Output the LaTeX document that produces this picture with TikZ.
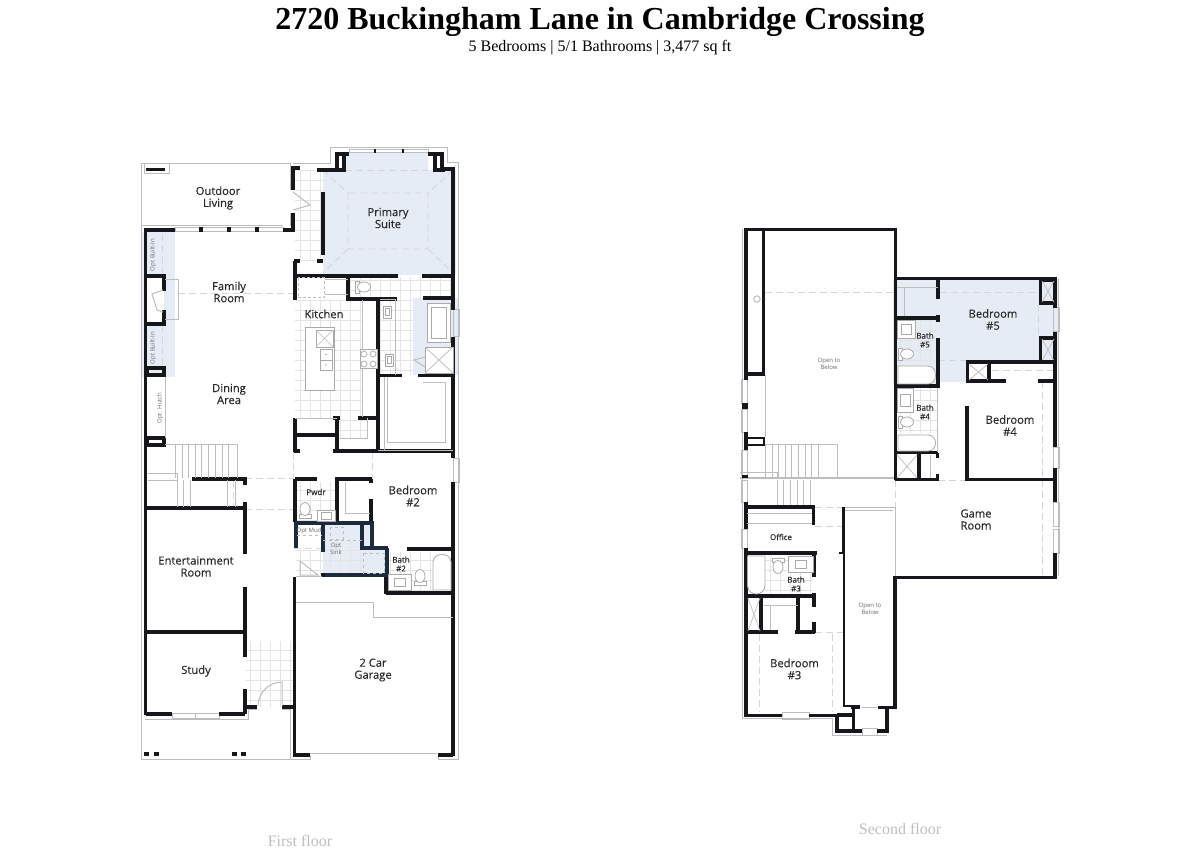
\documentclass[tikz,border=0pt]{standalone}
\usepackage{fontspec}
\setmainfont{Liberation Serif}
\newfontfamily\planfont[FakeBold=0.35]{Open Sans}
\newfontfamily\tinyplanfont{Open Sans}
\definecolor{wallc}{HTML}{15171A}
\definecolor{navyc}{HTML}{1C2A3E}
\definecolor{greyc}{HTML}{BDBDBD}
\definecolor{tilec}{HTML}{E4E4E4}
\definecolor{ceilc}{HTML}{D6D6D6}
\definecolor{optc}{HTML}{E6ECF5}
\definecolor{labc}{HTML}{2B2B2B}
\tikzset{
  wall/.style={line width=3.2pt,wallc,line cap=butt,line join=miter},
  navywall/.style={line width=3.2pt,navyc},
  grl/.style={line width=1pt,greyc},
  fix/.style={line width=.8pt,color=greyc!90!black,fill=white},
  tileg/.style={line width=.6pt,tilec},
  ceil/.style={line width=.9pt,ceilc,dash pattern=on 7pt off 4pt},
  optfill/.style={fill=optc,draw=none},
  lab/.style={font=\planfont\fontsize{11.2}{12}\selectfont,text=labc,align=center,inner sep=0pt},
  slab/.style={font=\planfont\fontsize{8}{8.8}\selectfont,text=labc,align=center,inner sep=0pt},
  tlab/.style={font=\tinyplanfont\fontsize{6}{6.5}\selectfont,text=labc!70,align=center,inner sep=0pt},
  toiletp/.pic={
    \draw[fix] (-6,4) rectangle (6,8);
    \draw[fix] (0,-1) ellipse [x radius=5,y radius=6.5];
  },
  sinkp/.pic={
    \draw[fix] (-6,-4) rectangle (6,4);
    \draw[fix] (-3.5,-2) rectangle (3.5,2);
  },
  xbox/.style={line width=.7pt,greyc},
}
\begin{document}
\begin{tikzpicture}[x=1pt,y=-1pt]
\useasboundingbox (0,0) rectangle (1200,850);
\fill[white] (0,0) rectangle (1200,850);
% headings
\node[font=\bfseries\fontsize{32}{36}\selectfont,inner sep=0pt] (title) at (600,22) {2720 Buckingham Lane in Cambridge Crossing};
\node[font=\fontsize{16}{18}\selectfont,inner sep=0pt] (subtitle) at (600,48) {5 Bedrooms | 5/1 Bathrooms | 3,477 sq ft};
\node[font=\fontsize{16}{18}\selectfont,text=black!25,inner sep=0pt] (first) at (300,841) {First floor};
\node[font=\fontsize{16}{18}\selectfont,text=black!25,inner sep=0pt] (second) at (900,829) {Second floor};

%%%%%%%% FIRST FLOOR
% option fills
\fill[optfill] (323,170) -- (345,170) -- (345,153) -- (428,153) -- (428,170) -- (456,170) -- (456,275) -- (323,275) -- cycle;
\fill[optfill] (142,232) rectangle (175,377);
\fill[white] (147,276) rectangle (164,324);
\fill[optfill] (413,298) rectangle (459,375);
\fill[optfill] (323,525) -- (372,525) -- (372,548) -- (387,548) -- (387,575) -- (323,575) -- cycle;
% tiles
\draw[tileg,step=10pt] (295,170) grid (323,260);
\draw[tileg,step=10pt] (295,300) grid (362,418);
\draw[tileg,step=10pt] (337,418) grid (367,438);
\draw[tileg,step=10pt] (348,277) grid (453,298);
\draw[tileg,step=10pt] (380,298) grid (413,375);
\draw[tileg,step=10pt] (246,641) grid (293,707);
\draw[tileg,step=10pt] (296,482) grid (336,520);
\draw[tileg,step=10pt] (296,550) grid (323,575);
\draw[tileg,step=10pt] (324,541) grid (362,575);
\draw[tileg,step=10pt] (388,552) grid (433,590);
% grey outlines
\draw[grl] (141.5,226) -- (141.5,164) -- (290,164) -- (290,190);
\draw[grl] (290,213) -- (290,226);
\draw[grl] (141.5,226) -- (283,226);
\draw[grl] (144,164) rectangle (169,174);
\draw[grl] (141.5,226) -- (141.5,759) -- (290,759) -- (290,709) -- (282,709);
\draw[grl] (145,719) -- (248,719) -- (248,709) -- (257,709);
\draw[grl] (310,164) -- (330,164) -- (330,148) -- (447,148) -- (447,163) -- (458,163) -- (458,759) -- (438,759) -- (438,755);
\draw[grl] (290,759) -- (310,759) -- (310,755);
\draw[grl] (293,164) -- (310,164);
\draw[grl] (175,228) rectangle (283,232);
\draw[grl] (349,150) rectangle (428,153);
\draw[grl] (310,753) -- (437,753);
\draw[grl] (172,713) rectangle (219,718);
\draw[grl] (195.5,713) -- (195.5,718);
\draw[grl] (453,458) rectangle (459,482);
\draw[grl] (453,310) rectangle (459,337);
% ceilings
\draw[ceil] (345,170) -- (428,170);
\draw[ceil] (323,170) -- (348,193) rectangle (428,249) -- (453,273);
\draw[ceil] (453,170) -- (428,193);
\draw[ceil] (348,249) -- (323,273);
\draw[ceil] (178,293) -- (293,293);
\draw[ceil] (293,452) -- (293,479);
\draw[ceil] (372,452) -- (372,478);
\draw[ceil] (245,478) -- (293,478);
\draw[ceil] (245,509) -- (293,509);
\draw[ceil] (233,481) -- (233,507);
\draw[ceil] (294,548) -- (323,548);
\draw[ceil] (162,234) -- (162,275);
\draw[ceil] (162,325) -- (162,367);
% walls
\draw[wall] (145.5,230) -- (145.5,715);
\draw[wall] (144,230) -- (175,230);
\draw[wall] (283,230) -- (293,230) -- (293,213);
\draw[wall] (293,190) -- (293,168) -- (300,168);
\foreach \m in {201,229,257} \fill[wallc] (\m-2,227) rectangle (\m+2,232);
\draw[wall] (147,276) -- (164,276) -- (164,291);
\draw[wall] (164,310) -- (164,324) -- (147,324);
\draw[wall] (147,368) rectangle (164,375);
\draw[wall] (147,438) rectangle (164,445);
\draw[wall] (147,508) -- (245,508);
\draw[wall] (192,479) -- (246.5,479);
\draw[wall] (245,479) -- (245,485);
\draw[wall] (245,502) -- (245,554);
\draw[wall] (245,587) -- (245,657);
\draw[wall] (245,689) -- (245,714);
\draw[wall] (146,632) -- (245,632);
\draw[wall] (146,714) -- (172,714);
\draw[wall] (219,714) -- (245,714);
\draw[wall] (245,707) -- (257,707);
\draw[wall] (282,707) -- (293,707);
\draw[wall] (294.5,577) -- (294.5,755) -- (310,755);
\draw[wall] (438,755) -- (453,755);
\draw[wall] (453,593) -- (453,756);
% primary suite
\draw[wall] (317,170) -- (344,170) -- (344,154);
\draw[wall] (337,170) -- (337,154) -- (349,154);
\draw[wall] (428,154) -- (442,154) -- (442,169) -- (453,169) -- (453,310);
\draw[wall] (435,154) -- (435,170) -- (445,170);
\draw[wall] (323,192) -- (323,255);
\draw[wall] (323,170) -- (323,172);
\draw[line width=2pt,wallc] (375,149.5) -- (375,153);
\draw[line width=2pt,wallc] (403,149.5) -- (403,153);
% kitchen / bath
\draw[wall] (295,276) -- (295,300);
\draw[wall] (295,261) -- (295,276);
\draw[wall] (293.5,261) -- (300,261);
\draw[wall] (317,261) -- (323,261);
\draw[wall] (295,276) -- (398,276);
\draw[wall] (422,276) -- (453,276);
\draw[wall] (348,275) -- (348,299) -- (397,299);
\draw[wall] (423,298) -- (453,298) -- (453,275);
\draw[wall] (453,337) -- (453,375);
\draw[wall] (378,299) -- (378,453);
\draw[wall] (378,375.5) -- (402,375.5);
\draw[wall] (418,375.5) -- (453,375.5);
\draw[wall] (358,418) -- (378,418);
\draw[wall] (295,418) -- (295,452);
\draw[wall] (295,435) -- (337,435);
\draw[wall] (337,418) -- (337,453);
\draw[wall] (333,418) -- (340,418);
\draw[wall] (293.5,451) -- (300,451);
\draw[wall] (333,451) -- (453,451);
\draw[wall] (453,375) -- (453,458);
% pwdr, mud, bed2
\draw[wall] (295,479) -- (317,479);
\draw[wall] (335,479) -- (372,479);
\draw[wall] (295,479) -- (295,522);
\draw[wall] (337,477) -- (337,522);
\draw[wall] (371,479) -- (371,483);
\draw[wall] (371,499) -- (371,522);
\draw[wall] (453,482) -- (453,549);
\draw[wall] (407,549) -- (453,549);
\draw[wall] (386,593) -- (453,593);
\draw[wall] (386,576) -- (386,594);
\draw[wall] (453,549) -- (453,594);
\draw[navywall] (295,523) -- (372,523) -- (372,548) -- (388,548);
\draw[navywall] (362,523) -- (362,548) -- (372,548);
\draw[navywall] (323,523) -- (323,552);
\draw[navywall] (323,575) -- (387,575) -- (387,548);
\draw[navywall] (296,522) -- (296,548);
\draw[wall] (323,572.5) -- (323,577);
% dashed options
\draw[grl,dashed] (297,535) -- (322,535);
\draw[grl,dashed] (323,540) -- (362,540);
\draw[grl,dashed] (330,527) rectangle (343,539);
\draw[grl,dashed] (363,553) rectangle (384,573);
% doors
\draw[grl] (293,192) -- (310,205) -- (293,210);
\draw[grl] (300,575) -- (300,561) -- (318,575) -- cycle;
\draw[grl] (282,706) -- (282,682) .. controls (268,682) and (258,694) .. (258,706);
% stairs
\draw[grl] (165,444) -- (237,444);
\draw[grl] (165,377) -- (165,438);
\foreach \s in {175,182,188,195,201,208,215,222,228,237} \draw[grl] (\s,444) -- (\s,478);
\foreach \s in {177,183,190,227,235} \draw[grl] (\s,480) -- (\s,507);
\draw[grl] (148,473) -- (177,473) -- (177,480) -- (148,480);
% garage
\draw[grl] (296,602) -- (373,602) -- (373,617) -- (453,617);
\draw[grl] (296,576) -- (322,576);
% porch columns
\foreach \c in {144,153.5,232,241} \fill[wallc] (\c,752) rectangle (\c+5,756);
\fill[wallc] (146,168) rectangle (165,171);
% hearth and fireplace
\draw[grl] (165,280) -- (178,280) -- (178,320) -- (165,320);
\draw[grl] (163,290) -- (152,294) -- (157,310) -- (163,312);
% kitchen fixtures
\draw[fix] (305,327) rectangle (334,390);
\draw[fix] (316,330) rectangle (333,347);
\draw[xbox] (316,330) -- (333,347) (333,330) -- (316,347);
\draw[fix] (320,349) rectangle (332,370);
\draw[fix] (320,360) -- (332,360);
\fill[black!60] (326,354.5) circle (.7) (326,365) circle (.7);
\draw[grl,densely dashed] (298,278) rectangle (324,298);
\draw[grl] (325,280) -- (348,280) (325,295) -- (348,295);
\draw[grl] (362,300) -- (362,417);
\draw[fix] (360,349) rectangle (377,368);
\foreach \a/\b in {364/354,373/354,364/364,373/364} \draw[grl] (\a,\b) circle (3);
% pantry/closet lines
\draw[grl] (295,418) -- (337,418);
\draw[grl] (387,377) -- (387,442) -- (445,442) -- (445,383) -- (423,383);
\draw[grl] (384,377) -- (384,450);
\draw[grl] (378,450) -- (453,450);
\draw[grl] (367,418) -- (367,438) -- (340,438);
% primary bath fixtures
\pic[rotate=-90] at (363,287) {toiletp};
\pic[rotate=90] at (387,312) {sinkp};
\pic[rotate=90] at (389,360) {sinkp};
\draw[grl] (380,300) -- (395,300) -- (395,375);
\draw[fix] (427,303) rectangle (450,342);
\draw[fix] (431,307) rectangle (446,338);
\draw[fix] (425,347) rectangle (453,373);
\draw[xbox] (425,347) -- (453,373) (453,347) -- (425,373);
\draw[grl] (425,357) -- (414,360) -- (425,367);
% pwdr & bath 2 fixtures
\pic at (305,510) {toiletp};
\draw[fix] (317,510) rectangle (335,521);
\draw[fix] (321,512) rectangle (331,519);
\pic at (420,577) {toiletp};
\draw[fix] (388,574) rectangle (411,590);
\draw[fix] (394,578) rectangle (405,586);
\draw[fix] (433,590) -- (433,562) .. controls (433,552) and (451,552) .. (451,562) -- (451,590) -- cycle;
\draw[grl] (345,482) -- (345,513) -- (370,513);
% first floor labels
\node[lab] (outdoor) at (218,198) {Outdoor\\Living};
\node[lab] (primary) at (388,218) {Primary\\Suite};
\node[lab] (family) at (229,292) {Family\\Room};
\node[lab] (dining) at (229,394) {Dining\\Area};
\node[lab] (kitchen) at (324,314) {Kitchen};
\node[lab] (bed2) at (413,496) {Bedroom\\\#2};
\node[slab] (pwdr) at (316,492) {Pwdr};
\node[tlab] (optmud) at (309,531) {Opt Mud};
\node[tlab] (optsink) at (336,549) {Opt\\Sink};
\node[slab] (bath2) at (401,564) {Bath\\\#2};
\node[lab] (ent) at (196,566.5) {Entertainment\\Room};
\node[lab] (study) at (196,671) {Study};
\node[lab] (garage) at (373,670) {2 Car\\Garage};
\node[tlab,rotate=90] (bi1) at (153,255) {Opt Built-In};
\node[tlab,rotate=90] (bi2) at (153,348) {Opt Built-In};
\node[tlab,rotate=90] (hutch) at (160,408) {Opt. Hutch};

%%%%%%%% SECOND FLOOR
\fill[optfill] (893,279) -- (1058,279) -- (1058,363) -- (967,363) -- (967,382) -- (938,382) -- (938,386) -- (893,386) -- cycle;
\draw[tileg,step=10pt] (897,320) grid (937,364);
\draw[tileg,step=10pt] (897,388) grid (937,433);
\draw[tileg,step=10pt] (765,556) grid (813,595);
% grey
\draw[grl] (742,229) -- (742,718) -- (832,718) -- (832,735) -- (887,735);
\draw[grl] (1058,279) -- (1058,576);
\draw[grl] (765,375) -- (765,437);
\draw[grl] (741,380) rectangle (747,403);
\draw[grl] (741,409) rectangle (747,432);
\draw[grl] (741,450) rectangle (747,475);
\draw[grl] (741,480) rectangle (747,502);
\draw[grl] (741,529) rectangle (747,548);
\draw[grl] (1053,308) rectangle (1059,332);
\draw[grl] (1053,447) rectangle (1059,468);
\draw[grl] (1053,502) rectangle (1059,526);
\draw[grl] (1053,529) rectangle (1059,553);
\draw[grl] (782,712) rectangle (809,719);
\draw[grl] (862,728) rectangle (877,735);
\draw[grl] (757,299) circle (3.2);
% stairs
\draw[grl] (765,444) -- (837,444);
\foreach \s in {765,772,778,785,791,798,805,811,818,837} \draw[grl] (\s,444) -- (\s,477);
\foreach \s in {777,783,790,797,803,810} \draw[grl] (\s,480) -- (\s,507);
\draw[grl] (740,472) -- (777,472) -- (777,478);
\draw[grl,line width=1.5pt] (740,478) -- (895,478);
% ceilings
\draw[ceil] (765,292) -- (893,292);
\draw[ceil] (940,292) -- (1038,292);
\draw[ceil] (938,360) -- (967,360);
\draw[ceil] (1038,305) -- (1038,335);
\draw[ceil] (1042,381) -- (1042,576);
\draw[ceil] (895,480) -- (895,507);
\draw[ceil] (938,480) -- (967,480);
\draw[ceil] (815,507) -- (842,507);
\draw[ceil] (815,526) -- (842,526);
\draw[ceil] (815,632) -- (843,632);
\draw[ceil] (759,634) -- (759,712);
\draw[ceil] (832,634) -- (832,712);
\draw[ceil] (992,370) -- (1054,370);
% walls
\draw[wall] (746,380) -- (746,229.5) -- (895.5,229.5) -- (895.5,480);
\draw[wall] (763.5,230) -- (763.5,375);
\draw[wall] (746,374) -- (765,374);
\draw[wall] (746,432) -- (746,450);
\draw[wall,line width=2.5pt] (747,438) rectangle (764,445);
\fill[wallc] (742,403) rectangle (748,409);
\fill[wallc] (742,475) rectangle (748,478);
\draw[wall] (746,502) -- (746,529);
\draw[wall] (746,507) -- (815,507);
\draw[wall] (813.5,507) -- (813.5,525);
\draw[grl] (747,513) -- (812,513) (747,523) -- (812,523);
\draw[wall] (746,548) -- (746,715.5) -- (782,715.5);
\draw[wall] (809,715.5) -- (836,715.5);
\draw[wall] (746,553) -- (817,553);
\draw[wall] (814,553) -- (814,577);
\draw[wall] (746,596) -- (815,596);
\draw[wall] (814,593) -- (814,607);
\draw[wall] (814,622) -- (814,633);
\draw[wall] (761,597) -- (761,632);
\draw[wall] (798,597) -- (798,632);
\draw[wall] (746,632) -- (778,632);
\draw[wall] (795,632) -- (815,632);
\draw[grl] (764,605) -- (798,605) (770,605) -- (770,630);
\draw[xbox] (748,598) -- (760,631) (760,598) -- (748,631);
% open-to-below 2
\draw[wall] (843.5,507) -- (843.5,553);
\draw[wall,line width=2pt] (844,553) -- (844,706) -- (860,706);
\draw[wall,line width=2pt] (839,553) -- (844,553);
\draw[grl] (845,507) -- (895,507) -- (895,576);
\draw[grl] (845,510) -- (893,510);
\draw[wall] (895,576) -- (895,707.5) -- (878,707.5);
\draw[wall] (860,707.5) -- (851,707.5);
\draw[wall] (837,715) -- (853,715);
\draw[wall] (837,714) -- (837,731) -- (862,731);
\draw[wall] (877,731) -- (887,731) -- (887,707);
\draw[wall] (853.5,707) -- (853.5,731);
\draw[grl] (862,707) -- (877,707);
% upper right
\draw[wall] (895,278.5) -- (1056,278.5);
\draw[wall] (1055,277) -- (1055,308);
\draw[wall] (1055,332) -- (1055,447);
\draw[wall] (1055,468) -- (1055,502);
\draw[wall] (1055,553) -- (1055,577.5) -- (894,577.5);
\draw[wall] (938,280) -- (938,299);
\draw[wall] (938,315) -- (938,322);
\draw[wall] (896,318) -- (938,318);
\draw[wall] (938,338) -- (938,386);
\draw[wall] (895,386) -- (940,386);
\draw[wall] (1040.5,280) rectangle (1055,303);
\draw[wall] (1040.5,338) rectangle (1055,362);
\draw[xbox] (1042,281) -- (1054,302) (1054,281) -- (1042,302);
\draw[xbox] (1042,339) -- (1054,361) (1054,339) -- (1042,361);
\draw[wall] (967,362) -- (1055,362);
\draw[wall] (967.5,362) rectangle (989,381);
\draw[xbox] (969,364) -- (988,380) (988,364) -- (969,380);
\draw[wall] (989,381) -- (1006,381);
\draw[wall] (1038,381) -- (1055,381);
\draw[wall] (967,406) -- (967,481);
\draw[wall] (967,479.5) -- (1055,479.5);
\draw[wall] (895,452.5) -- (938,452.5);
\draw[wall] (895,479.5) -- (938,479.5);
\draw[wall] (919,453) -- (919,480);
\draw[wall] (937.5,453) -- (937.5,458);
\draw[wall] (937.5,474) -- (937.5,481);
\draw[xbox] (897,455) -- (917,478) (917,455) -- (897,478);
\draw[grl] (897,288) -- (938,288) (904,288) -- (904,316);
\draw[grl] (937,388) -- (937,452);
\draw[grl] (930,455) -- (930,478);
% fixtures second floor
\draw[fix] (897,320) rectangle (915,338);
\draw[fix] (901,324) rectangle (911,334);
\pic[rotate=-90] at (906,354) {toiletp};
\draw[fix] (898,384) -- (898,366) -- (928,366) .. controls (938,366) and (938,384) .. (928,384) -- cycle;
\draw[fix] (897,388) rectangle (913,412);
\draw[fix] (900,394) rectangle (910,406);
\pic[rotate=-90] at (906,422) {toiletp};
\draw[fix] (898,451) -- (898,435) -- (928,435) .. controls (938,435) and (938,451) .. (928,451) -- cycle;
\draw[fix] (747.5,556) -- (765,556) -- (765,585) .. controls (765,597) and (747.5,597) .. (747.5,585) -- cycle;
\pic[rotate=180] at (778,566) {toiletp};
\draw[fix] (788,556) rectangle (813,572);
\draw[fix] (795,560) rectangle (806,568);
% second floor labels
\node[tlab] (open1) at (829,364) {Open to\\Below};
\node[slab] (bath5) at (925,340) {Bath\\\#5};
\node[slab] (bath4) at (925,412) {Bath\\\#4};
\node[lab] (bed5) at (993,319.5) {Bedroom\\\#5};
\node[lab] (bed4) at (1010,425.5) {Bedroom\\\#4};
\node[lab] (game) at (976,519.5) {Game\\Room};
\node[slab] (office) at (781,537) {Office};
\node[slab] (bath3) at (796,584) {Bath\\\#3};
\node[tlab] (open2) at (870,609) {Open to\\Below};
\node[lab] (bed3) at (794.5,669) {Bedroom\\\#3};
\end{tikzpicture}
\end{document}
